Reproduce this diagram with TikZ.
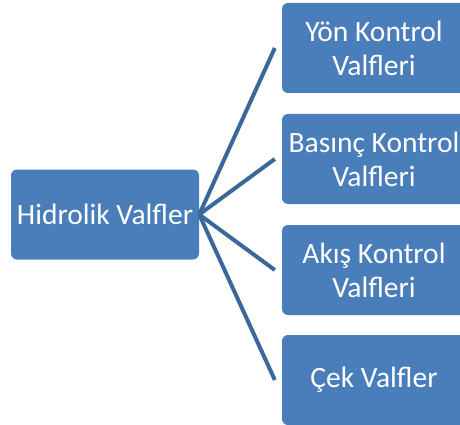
\documentclass[tikz,border=0pt]{standalone}
\usepackage{fontspec}
\setmainfont{Carlito}
\definecolor{boxblue}{RGB}{74,126,187}
\definecolor{lineblue}{RGB}{58,104,155}
\begin{document}
\begin{tikzpicture}[x=1pt,y=-1pt,
  vbox/.style={fill=boxblue, rounded corners=6pt, minimum width=188pt, minimum height=90pt,
    text=white, align=center, inner sep=0pt,
    font=\fontsize{29.5}{34}\selectfont},
  rbox/.style={vbox, minimum width=184pt},
  conn/.style={draw=lineblue, line width=4pt}]
\useasboundingbox (0,0) rectangle (460,425);
\clip (0,0) rectangle (460,425);
\fill[white] (0,0) rectangle (460,425);
\node[vbox] (main) at (105,214.5) {Hidrolik Valfler};
\node[rbox] (b1) at (374,48) {Yön Kontrol\\Valfleri};
\node[rbox] (b2) at (374,159) {Basınç Kontrol\\Valfleri};
\node[rbox] (b3) at (374,270) {Akış Kontrol\\Valfleri};
\node[rbox] (b4) at (374,380) {Çek Valfler};
\foreach \b in {b1,b2,b3,b4}
  \draw[conn] (main.east) -- ([xshift=-7pt]\b.west);
\end{tikzpicture}
\end{document}
